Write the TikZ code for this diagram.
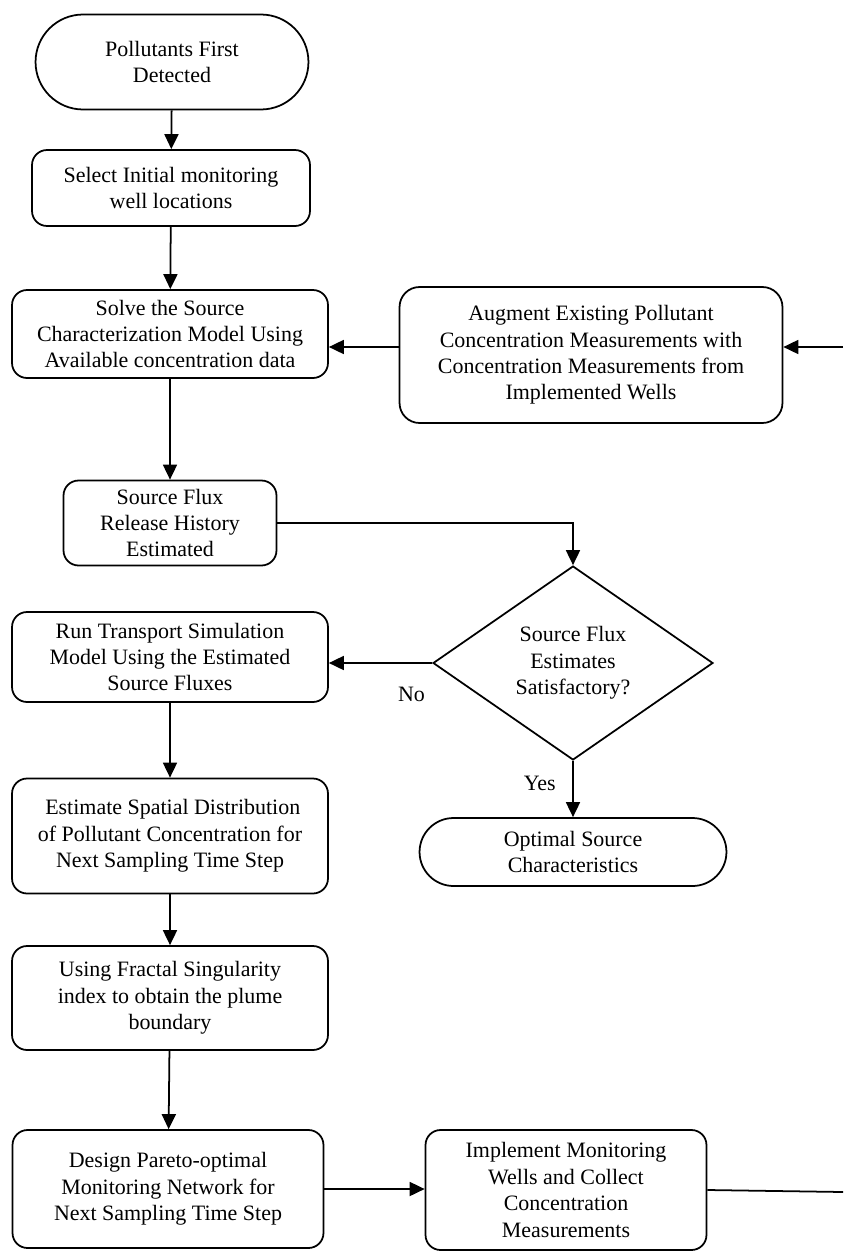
\documentclass[tikz,border=0pt]{standalone}
\usepackage{fontspec}
\setmainfont{Liberation Serif}
\newfontfamily\flowfont{Liberation Serif}
\usetikzlibrary{shapes.misc,shapes.geometric,arrows.meta}

\begin{document}
\begin{tikzpicture}[x=0.02cm, y=-0.02cm,
    every node/.style={font=\flowfont\fontsize{12.5}{15}\selectfont, align=center},
    box/.style={draw, line width=1pt, rounded corners=0.3cm, inner sep=2pt},
    term/.style={draw, line width=1pt, rounded rectangle, inner sep=2pt},
    decision/.style={draw, line width=1pt, diamond, aspect=1.44, inner sep=0pt},
    arr/.style={line width=1pt, -{Triangle[length=3mm, width=2.8mm]}},
    lin/.style={line width=1pt}]
    \useasboundingbox (0,0) rectangle (843,1254);

    \node[term, minimum width=5.6cm, minimum height=1.9cm] (start) at (172,62) {Pollutants First\\Detected};
    \node[box, minimum width=5.56cm, minimum height=1.52cm] (select) at (171,188) {Select Initial monitoring\\well locations};
    \node[box, minimum width=6.32cm, minimum height=1.76cm] (solve) at (170,334) {Solve the Source\\Characterization Model Using\\Available concentration data};
    \node[box, rounded corners=0.4cm, minimum width=7.66cm, minimum height=2.72cm] (augment) at (591,355) {Augment Existing Pollutant\\Concentration Measurements with\\Concentration Measurements from\\Implemented Wells};
    \node[box, minimum width=4.26cm, minimum height=1.7cm] (flux) at (170,523) {Source Flux\\Release History\\Estimated};
    \node[decision, minimum width=5.6cm, minimum height=3.88cm] (check) at (573,663) {Source Flux\\Estimates\\Satisfactory?};
    \node[box, minimum width=6.32cm, minimum height=1.8cm] (run) at (170,657) {Run Transport Simulation\\Model Using the Estimated\\Source Fluxes};
    \node[term, minimum width=6.28cm, minimum height=1.36cm] (optimal) at (573,852) {Optimal Source\\Characteristics};
    \node[box, minimum width=6.32cm, minimum height=2.3cm] (estimate) at (170,836) {\ Estimate Spatial Distribution\\of Pollutant Concentration for\\Next Sampling Time Step};
    \node[box, minimum width=6.32cm, minimum height=2.08cm] (fractal) at (170,998) {Using Fractal Singularity\\index to obtain the plume\\boundary};
    \node[box, minimum width=6.22cm, minimum height=2.36cm] (design) at (168,1189) {Design Pareto-optimal\\Monitoring Network for\\Next Sampling Time Step};
    \node[box, minimum width=5.62cm, minimum height=2.4cm] (implement) at (566,1190) {Implement Monitoring\\Wells and Collect\\Concentration\\Measurements};

    \coordinate (inR) at (843,347);
    \coordinate (outR) at (843,1192);

    \draw[arr] (start) -- (select);
    \draw[arr] (select) -- (solve);
    \draw[arr] (solve) -- (flux);
    \draw[arr] (inR) -- (inR -| augment.east);
    \draw[arr] (inR -| augment.west) -- (inR -| solve.east);
    \draw[arr] (flux.east) -| (check.north);
    \draw[arr] (check.west) -- (check.west -| run.east) node[pos=0.2, below=10pt] {No};
    \draw[arr] (check.south) -- (optimal.north) node[pos=0.4, left=6pt] {Yes};
    \draw[arr] (run) -- (estimate);
    \draw[arr] (estimate) -- (fractal);
    \draw[arr] (fractal) -- (design);
    \draw[arr] (design.east) -- (design.east -| implement.west);
    \draw[lin] (implement.east) -- (outR);
\end{tikzpicture}
\end{document}
